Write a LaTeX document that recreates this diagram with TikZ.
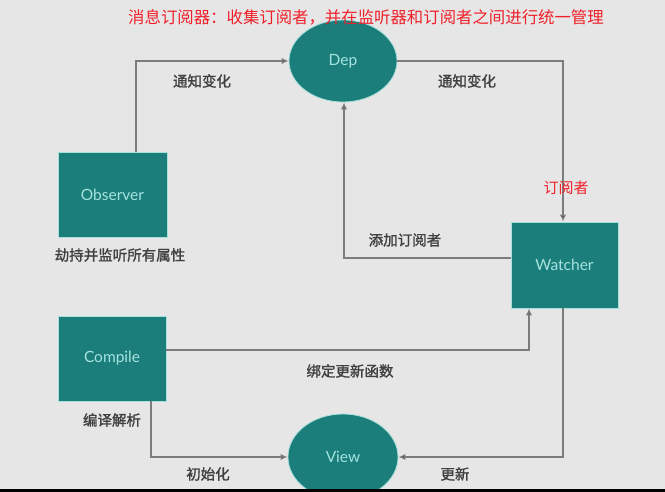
\documentclass[tikz,border=0pt]{standalone}
\usepackage{fontspec}
\setmainfont{Lato}
\newfontfamily\cjk{Noto Sans CJK SC}
\newfontfamily\cjkb{Noto Sans CJK SC}[FakeBold=1.5]
\usetikzlibrary{shapes.geometric,arrows.meta,positioning,calc}
\definecolor{bg}{HTML}{E6E6E6}
\definecolor{teal}{HTML}{1B7E7B}
\definecolor{rim}{HTML}{A8E0DC}
\definecolor{ntext}{HTML}{A6E3DF}
\definecolor{wire}{HTML}{7C7C7C}
\definecolor{lbl}{HTML}{404040}
\definecolor{redtxt}{HTML}{F0202A}
\tikzset{
  box/.style={rectangle, fill=teal, draw=rim, line width=0.8pt, text=ntext, font=\fontsize{15.5}{17}\selectfont, inner sep=0pt},
  oval/.style={ellipse, fill=teal, draw=rim, line width=0.8pt, text=ntext, font=\fontsize{15.5}{17}\selectfont, inner sep=0pt},
  wireln/.style={draw=wire, line width=1.8pt, -{Latex[length=7pt,width=6.5pt,fill=black]}},
  tag/.style={text=lbl, font=\cjkb\fontsize{14.5}{16}\selectfont, inner sep=0pt},
  redtag/.style={text=redtxt, font=\cjk\fontsize{15}{17}\selectfont, inner sep=0pt}
}
\begin{document}
\begin{tikzpicture}[x=1pt,y=-1pt]
\fill[bg] (0,0) rectangle (665,492);
\useasboundingbox (0,0) rectangle (665,492);
% nodes
\node[oval, minimum width=108pt, minimum height=82pt] (dep) at (343,61) {Dep};
\node[box, minimum width=109pt, minimum height=85pt] (obs) at (112.5,194.5) {Observer};
\node[box, minimum width=107pt, minimum height=86pt] (wat) at (564.5,265) {Watcher};
\node[box, minimum width=108pt, minimum height=85pt] (cmp) at (112,358.5) {Compile};
\node[oval, minimum width=110pt, minimum height=86pt] (view) at (343,457) {View};
% connectors
\draw[wireln] ($(obs.north)+(23.5,0)$) |- (dep.west);
\draw[wireln] (dep.east) -| ($(wat.north)+(-1.5,0)$);
\draw[wireln] ($(wat.west)+(0,-7)$) -| ($(dep.south)+(1,0)$);
\draw[wireln] ($(cmp.east)+(0,-8.5)$) -| ($(wat.south)+(-35.5,0)$);
\draw[wireln] ($(cmp.south)+(39,0)$) |- (view.west);
\draw[wireln] ($(wat.south)+(-1.5,0)$) |- (view.east);
% labels
\node[tag] (l1) at (202,81) {通知变化};
\node[tag] (l2) at (467,81) {通知变化};
\node[tag] (l3) at (120,255) {劫持并监听所有属性};
\node[tag] (l4) at (405,240) {添加订阅者};
\node[tag] (l5) at (350,371) {绑定更新函数};
\node[tag] (l6) at (112,420) {编译解析};
\node[tag] (l7) at (208,474) {初始化};
\node[tag] (l8) at (455,474) {更新};
\node[redtag] (r1) at (566,188) {订阅者};
\node[redtag, font=\cjk\fontsize{16.4}{18}\selectfont] (r0) at (366,17) {消息订阅器：收集订阅者，并在监听器和订阅者之间进行统一管理};
\fill[black] (0,489) rectangle (665,492);
\end{tikzpicture}
\end{document}
